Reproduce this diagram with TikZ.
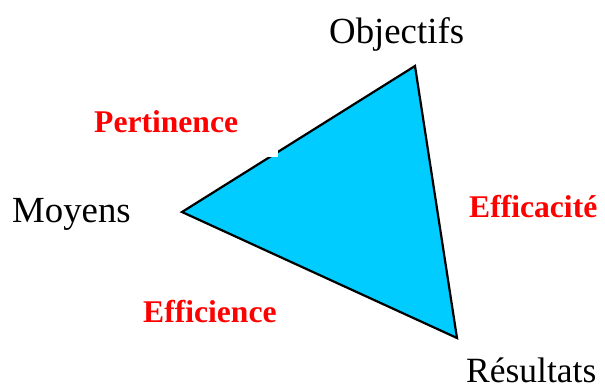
\documentclass[tikz,border=0pt]{standalone}
\usepackage{fontspec}
\setmainfont{Liberation Serif}
\begin{document}
\begin{tikzpicture}[x=1pt,y=-1pt,
  vlabel/.style={anchor=base west,inner sep=0pt,font=\fontsize{36.8}{40}\selectfont},
  clabel/.style={anchor=base west,inner sep=0pt,text=red,font=\fontsize{31.6}{36}\selectfont\bfseries},
  tri/.style={fill=cyanfill,draw=black,line width=2.2pt,line join=miter}]
\definecolor{cyanfill}{HTML}{00CCFF}
\useasboundingbox (0,0) rectangle (605,389);
\coordinate (O) at (415,66);
\coordinate (M) at (182,212);
\coordinate (R) at (457,338);
\draw[tri] (O) -- (M) -- (R) -- cycle;
\fill[white] (266,149) rectangle (278,157);
\node[vlabel] (obj) at (329,43) {Objectifs};
\node[vlabel,text depth=0pt,font=\fontsize{35.5}{40}\selectfont] (res) at (466,382) {Résultats};
\node[vlabel] (moy) at (12,222) {Moyens};
\node[clabel] (per) at (94,132) {Pertinence};
\node[clabel] (eff) at (469,217) {Efficacité};
\node[clabel] (efi) at (143,322) {Efficience};
\end{tikzpicture}
\end{document}
